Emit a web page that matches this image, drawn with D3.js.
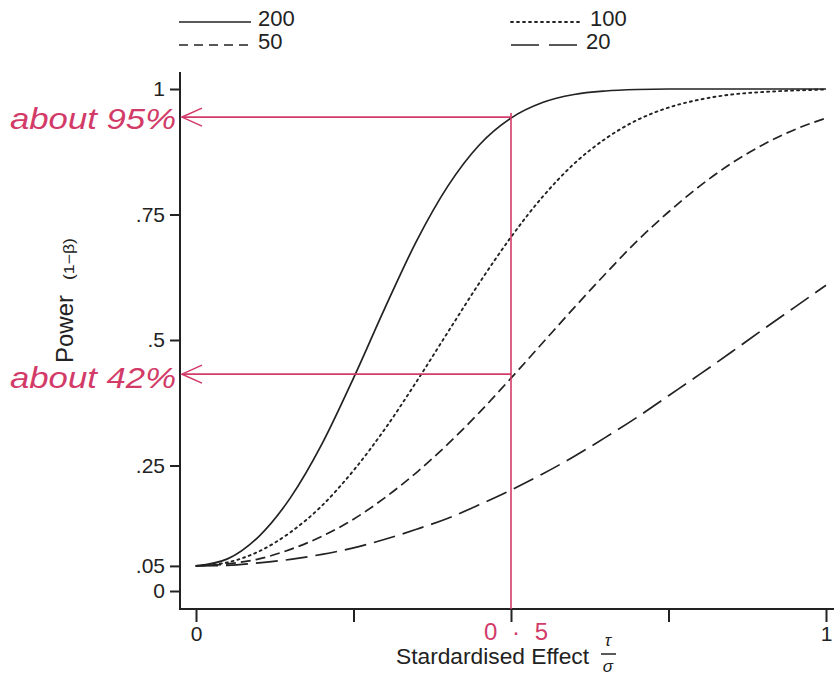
<!DOCTYPE html>
<html lang="en">
<head>
<meta charset="UTF-8">
<title>Power curves</title>
<script src="https://cdn.jsdelivr.net/npm/d3@7/dist/d3.min.js"></script>
<style>
    body { margin: 0; background: #fff; }
    text { font-family: "Liberation Sans", Arial, sans-serif; fill: #222; }
</style>
</head>
<body>
<script>
    // effect size grid (tau / sigma)
    var effect = [0, .05, .1, .15, .2, .25, .3, .35, .4, .45, .5, .55, .6, .65, .7, .75, .8, .85, .9, .95, 1];
    // power, one array per sample size
    var n200 = [.05, .064, .109, .186, .293, .424, .564, .697, .807, .889, .942, .973, .989, .996, .999, 1, 1, 1, 1, 1, 1];
    var n100 = [.05, .057, .079, .117, .170, .240, .323, .417, .516, .614, .705, .785, .851, .901, .938, .963, .979, .989, .994, .997, .999];
    var n50  = [.05, .054, .064, .083, .109, .143, .186, .236, .293, .356, .424, .494, .564, .632, .697, .755, .807, .852, .889, .919, .942];
    var n20  = [.05, .051, .056, .063, .073, .086, .103, .123, .145, .172, .201, .233, .268, .306, .346, .389, .432, .476, .521, .565, .609];
    var seriesNames = ["200", "100", "50", "20"];
    var yTicks = [0, .05, .25, .5, .75, 1];
    var xTicks = [0, .25, .5, .75, 1];
    // hand-written marks on the scan
    var marked = [{x: .5, y: .944, label: "about 95%"}, {x: .5, y: .432, label: "about 42%"}];

    var W = 834, H = 676;
    var ink = "#222", pen = "#d23b68";
    var svg = d3.select("body").append("svg").attr("width", W).attr("height", H);

    var x = d3.scaleLinear().domain([0, 1]).range([196, 826]);
    var y = d3.scaleLinear().domain([0, 1]).range([591, 89]);
    var axisX = 180, axisY = 609;

    var styles = {
        "200": "none",
        "100": "2,4",
        "50": "10,5",
        "20": "22,8"
    };
    var allSeries = [n200, n100, n50, n20];

    // frame lines
    svg.append("line").attr("x1", axisX).attr("x2", axisX).attr("y1", 72).attr("y2", axisY)
        .attr("stroke", ink).attr("stroke-width", 2);
    svg.append("line").attr("x1", axisX - 1).attr("x2", W).attr("y1", axisY).attr("y2", axisY)
        .attr("stroke", ink).attr("stroke-width", 2);

    var fmt = function (v) { return v === 0 ? "0" : v === 1 ? "1" : d3.format(".2f")(v).replace(/^0/, "").replace(/0$/, ""); };

    var gy = svg.append("g").attr("transform", "translate(" + axisX + ",0)")
        .call(d3.axisLeft(y).tickValues(yTicks).tickFormat(fmt).tickSize(10).tickPadding(5));
    gy.select(".domain").remove();
    gy.selectAll("line").attr("stroke", ink).attr("stroke-width", 2);
    gy.selectAll("text").attr("font-size", 21).attr("font-family", "Liberation Sans, Arial, sans-serif").attr("fill", ink);

    var gx = svg.append("g").attr("transform", "translate(0," + axisY + ")")
        .call(d3.axisBottom(x).tickValues(xTicks).tickFormat(function (v) { return v === 0 || v === 1 ? String(v) : ""; })
            .tickSize(13).tickPadding(4));
    gx.select(".domain").remove();
    gx.selectAll("line").attr("stroke", ink).attr("stroke-width", 2);
    gx.selectAll("text").attr("font-size", 21).attr("font-family", "Liberation Sans, Arial, sans-serif").attr("fill", ink);

    // curves
    var line = d3.line().x(function (d, i) { return x(effect[i]); }).y(function (d) { return y(d); })
        .curve(d3.curveMonotoneX);
    allSeries.forEach(function (s, k) {
        svg.append("path").datum(s).attr("d", line).attr("fill", "none")
            .attr("stroke", ink).attr("stroke-width", k === 1 ? 1.9 : 1.7)
            .attr("stroke-linecap", k === 1 ? "round" : "butt")
            .attr("stroke-dasharray", styles[seriesNames[k]]);
    });

    // legend
    var legendPos = [{lx: 179, ty: 18}, {lx: 511, ty: 18}, {lx: 179, ty: 41}, {lx: 511, ty: 41}];
    seriesNames.forEach(function (name, k) {
        var p = legendPos[k];
        var lw = k === 3 ? 68 : 72;
        svg.append("line").attr("x1", p.lx).attr("x2", p.lx + lw).attr("y1", p.ty + 4).attr("y2", p.ty + 4)
            .attr("stroke", ink).attr("stroke-width", k === 1 ? 1.8 : 1.6)
            .attr("stroke-linecap", k === 1 ? "round" : "butt")
            .attr("stroke-dasharray", k === 3 ? "28,10" : k === 2 ? "9,6" : styles[name]);
        svg.append("text").attr("x", p.lx + lw + 7).attr("y", p.ty + 8)
            .attr("font-size", 22).text(name);
    });

    // axis titles
    svg.append("text").attr("transform", "translate(73,329) rotate(-90)")
        .attr("text-anchor", "middle").attr("font-size", 23)
        .attr("textLength", 68).attr("lengthAdjust", "spacingAndGlyphs").text("Power");
    svg.append("text").attr("transform", "translate(74,259) rotate(-90)")
        .attr("text-anchor", "middle").attr("font-size", 15)
        .attr("textLength", 42).attr("lengthAdjust", "spacingAndGlyphs").text("(1\u2212\u03b2)");

    svg.append("text").attr("x", 396).attr("y", 664).attr("font-size", 22)
        .attr("textLength", 193).attr("lengthAdjust", "spacingAndGlyphs").text("Stardardised Effect");
    svg.append("text").attr("x", 608).attr("y", 646).attr("text-anchor", "middle")
        .attr("font-size", 17).attr("font-style", "italic").attr("font-family", "DejaVu Serif, serif").text("\u03c4");
    svg.append("line").attr("x1", 601).attr("x2", 616).attr("y1", 654).attr("y2", 654)
        .attr("stroke", ink).attr("stroke-width", 1.5);
    svg.append("text").attr("x", 608).attr("y", 672).attr("text-anchor", "middle")
        .attr("font-size", 17).attr("font-style", "italic").attr("font-family", "DejaVu Serif, serif").text("\u03c3");

    // red annotations
    svg.append("line").attr("x1", x(.5)).attr("x2", x(.5)).attr("y1", y(marked[0].y) - 4).attr("y2", axisY)
        .attr("stroke", pen).attr("stroke-width", 1.6);
    marked.forEach(function (m, k) {
        var yy = y(m.y);
        svg.append("line").attr("x1", axisX + 2).attr("x2", x(m.x)).attr("y1", yy).attr("y2", yy)
            .attr("stroke", pen).attr("stroke-width", 1.6);
        svg.append("path")
            .attr("d", "M" + (axisX + 22) + "," + (yy - 9) + "L" + (axisX + 2) + "," + yy + "L" + (axisX + 22) + "," + (yy + 9))
            .attr("fill", "none").attr("stroke", pen).attr("stroke-width", 1.6);
        svg.append("text").attr("x", 10).attr("y", yy + (k === 0 ? 12 : 14))
            .attr("font-size", 29).attr("font-style", "italic").attr("font-family", "DejaVu Sans, sans-serif")
            .attr("textLength", 166).attr("lengthAdjust", "spacingAndGlyphs")
            .style("fill", pen).text(m.label);
    });
    svg.append("text").attr("x", 484).attr("y", 640)
        .attr("font-size", 24).attr("font-family", "DejaVu Sans, sans-serif")
        .attr("textLength", 64).attr("lengthAdjust", "spacing")
        .style("fill", pen).text("0\u00b75");
</script>
</body>
</html>
